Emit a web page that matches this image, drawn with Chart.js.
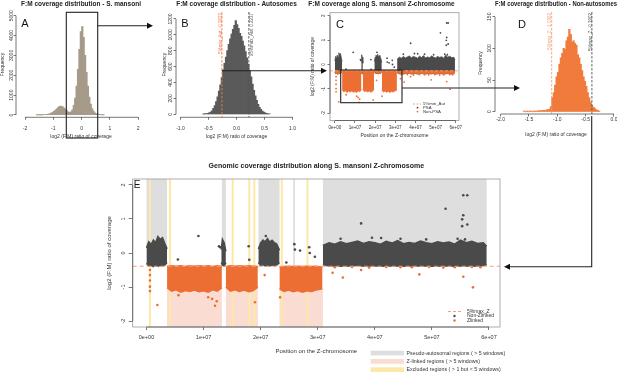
<!DOCTYPE html>
<html>
<head>
<meta charset="utf-8">
<title>F:M coverage</title>
<script src="https://cdn.jsdelivr.net/npm/chart.js@4.4.1/dist/chart.umd.min.js"></script>
<style>
  html, body { margin: 0; padding: 0; background: #fff; }
  body { position: relative; width: 617px; height: 373px; overflow: hidden; }
  canvas { position: absolute; }
  svg { position: absolute; left: 0; top: 0; }
</style>
</head>
<body>
<canvas id="graficoA" width="150" height="145" style="left:0px;top:0px"></canvas>
<canvas id="graficoB" width="160" height="145" style="left:150px;top:0px"></canvas>
<canvas id="graficoC" width="163" height="145" style="left:300px;top:0px"></canvas>
<canvas id="graficoD" width="147" height="145" style="left:470px;top:0px"></canvas>
<canvas id="graficoE" width="517" height="223" style="left:100px;top:150px"></canvas>
<svg width="617" height="373">
  <g stroke="#222" stroke-width="1.1" fill="none">
    <rect x="66.3" y="12.3" width="31.4" height="125.7"/>
    <rect x="340.7" y="70" width="61.3" height="32.7"/>
    <path d="M97.7 25.7 H148"/>
    <path d="M221.7 70.7 H322"/>
    <path d="M402 88 H515"/>
    <path d="M591.7 116 V266.7 H509"/>
  </g>
  <g fill="#111">
    <path d="M153 25.7 l-6 -3 v6 z"/>
    <path d="M327 70.7 l-6 -3 v6 z"/>
    <path d="M520 88 l-6 -3 v6 z"/>
    <path d="M504 266.7 l6 -3 v6 z"/>
  </g>
</svg>
<script>
// ---------- datos ----------
// A: todo el genoma (bins de 0.05)
const aBinStart = -1.6, aBinWidth = 0.05;
const aCounts = [5, 5, 8, 10, 12, 15, 20, 28, 40, 60, 90, 130, 180, 240, 310, 380, 430, 450, 420, 360, 290, 220, 160, 130,
                 150, 260, 480, 850, 1450, 2300, 3300, 4200, 4450, 3900, 3000, 2150, 1450, 900, 550, 320, 190, 110, 70, 45, 28, 18, 12, 8];
const aXTicks = [-2, -1, 0, 1, 2];
const aXLabels = ['-2', '-1', '0', '1', '2'];
const aYTicks = [0, 1000, 2000, 3000, 4000, 5000];

// B: autosomas (bins de 0.025)
const bBinStart = -0.6, bBinWidth = 0.025;
const bCounts = [3, 5, 8, 12, 18, 28, 42, 75, 110, 160, 220, 290, 370, 460, 560, 640, 720, 800, 880, 950, 1010, 1070, 1120, 1180,
                 1130, 1080, 1020, 980, 920, 860, 790, 710, 630, 550, 470, 380, 300, 230, 175, 125, 88, 60, 40, 26, 16, 10, 6, 4];
const bXTicks = [-1, -0.5, 0, 0.5, 1];
const bXLabels = ['-1.0', '-0.5', '0.0', '0.5', '1.0'];
const bYTicks = [0, 200, 400, 600, 800, 1000, 1200];
const autMin = -0.26, autMax = 0.22;
const autLabels = ['5%min_Aut: -0.2622', '95%max_Aut: 0.2237'];

// D: no autosomas (bins de 0.025)
const dBinStart = -1.6, dBinWidth = 0.025;
const dCounts = [1, 0, 1, 0, 1, 1, 0, 1, 1, 1, 1, 2, 1, 2, 2, 2, 3, 3, 4, 8,
                 22, 30, 42, 55, 62, 75, 85, 92, 100, 98, 112, 118, 130, 122, 110, 112, 108, 105, 90, 85,
                 75, 65, 55, 48, 40, 30, 22, 15, 10, 7, 5, 3, 2, 1];
const dXTicks = [-2, -1.5, -1, -0.5, 0];
const dXLabels = ['-2.0', '-1.5', '-1.0', '-0.5', '0.0'];
const dYTicks = [0, 50, 100, 150];
const zMin = -1.10, zMax = -0.39;
const zLabels = ['5%min_Z: -1.0962', '5%max_Z: -0.3902'];

// C y E: cromosoma Z (posicion en unidades de 1e7)
const zXTicks = [0, 1, 2, 3, 4, 5, 6];
const zXLabels = ['0e+00', '1e+07', '2e+07', '3e+07', '4e+07', '5e+07', '6e+07'];
const zYTicks = [-2, -1, 0, 1, 2];

// nubes densas de ventanas PSA (borde superior / inferior)
const psaCloudX = [
  [0.00, 0.04, 0.08, 0.12, 0.16, 0.20, 0.24, 0.28, 0.32, 0.36],
  [1.31, 1.33, 1.36, 1.39],
  [1.96, 2.00, 2.04, 2.08, 2.12, 2.16, 2.20, 2.24, 2.28, 2.33],
  [3.09, 3.20, 3.30, 3.40, 3.50, 3.60, 3.70, 3.80, 3.90, 4.00, 4.10, 4.20, 4.30, 4.40, 4.50,
   4.60, 4.70, 4.80, 4.90, 5.00, 5.10, 5.20, 5.30, 5.40, 5.50, 5.60, 5.70, 5.80, 5.90, 5.96]
];
const psaCloudTop = [
  [0.15, 0.33, 0.25, 0.38, 0.30, 0.48, 0.40, 0.45, 0.28, 0.12],
  [0.10, 0.40, 0.30, 0.05],
  [0.12, 0.30, 0.38, 0.33, 0.42, 0.32, 0.37, 0.30, 0.26, 0.08],
  [0.22, 0.30, 0.26, 0.33, 0.27, 0.31, 0.35, 0.28, 0.33, 0.30, 0.26, 0.34, 0.29, 0.36, 0.27,
   0.31, 0.28, 0.35, 0.30, 0.27, 0.33, 0.29, 0.32, 0.26, 0.38, 0.30, 0.34, 0.28, 0.30, 0.20]
];
const psaCloudBottom = [
  [-0.30, -0.38, -0.36, -0.40, -0.37, -0.39, -0.36, -0.38, -0.35, -0.28],
  [-0.28, -0.36, -0.38, -0.28],
  [-0.28, -0.36, -0.34, -0.38, -0.36, -0.38, -0.35, -0.37, -0.35, -0.28],
  [-0.34, -0.38, -0.37, -0.39, -0.37, -0.38, -0.36, -0.39, -0.38, -0.37, -0.39, -0.38, -0.37, -0.38, -0.39,
   -0.37, -0.38, -0.38, -0.37, -0.39, -0.38, -0.37, -0.38, -0.39, -0.38, -0.37, -0.38, -0.39, -0.37, -0.34]
];
// nubes densas de ventanas ligadas a Z
const zCloudX = [
  [0.36, 0.44, 0.52, 0.60, 0.68, 0.76, 0.84, 0.92, 1.00, 1.08, 1.16, 1.24, 1.32],
  [1.39, 1.47, 1.55, 1.63, 1.71, 1.79, 1.87, 1.95],
  [2.33, 2.41, 2.49, 2.57, 2.65, 2.73, 2.81, 2.89, 2.97, 3.08]
];
const zCloudTop = [
  [-0.40, -0.38, -0.39, -0.38, -0.40, -0.38, -0.39, -0.38, -0.39, -0.38, -0.40, -0.38, -0.40],
  [-0.40, -0.38, -0.39, -0.38, -0.39, -0.38, -0.39, -0.40],
  [-0.42, -0.40, -0.39, -0.40, -0.39, -0.40, -0.39, -0.40, -0.39, -0.42]
];
const zCloudBottom = [
  [-1.02, -1.12, -1.08, -1.15, -1.10, -1.13, -1.09, -1.14, -1.11, -1.15, -1.08, -1.12, -1.02],
  [-1.00, -1.12, -1.08, -1.13, -1.09, -1.14, -1.10, -1.00],
  [-1.05, -1.13, -1.09, -1.14, -1.10, -1.15, -1.11, -1.13, -1.09, -1.05]
];
// puntos sueltos
const darkOutX = [0.55, 0.91, 1.27, 1.29, 1.79, 1.80, 2.09, 2.45, 2.59, 2.60, 2.69, 2.85, 2.86, 2.95, 3.40,
                  3.76, 3.95, 4.11, 4.45, 4.90, 5.24, 5.45, 5.53, 5.53, 5.55, 5.55, 5.58, 5.62, 5.62];
const darkOutY = [-0.19, 0.50, 0.20, 0.17, 0.20, -0.20, 0.50, -0.28, 0.26, 0.10, 0.07, 0.17, 0.00, -0.11, 0.42,
                  0.87, 0.45, 0.44, 0.42, 0.40, 1.30, 0.42, 0.79, 0.99, 1.11, 1.70, 0.40, 0.84, 1.70];
const orangeOutX = [0.06, 0.06, 0.06, 0.06, 0.06, 0.19, 0.56, 1.08, 1.15, 1.20, 1.23, 1.90, 2.07, 2.34, 3.26, 3.44,
                    3.76, 4.78, 5.55, 5.72, 3.30, 3.60, 3.90, 4.20, 4.45, 4.65, 4.95, 5.20, 5.40, 5.70, 5.85];
const orangeOutY = [-0.50, -0.65, -0.81, -0.99, -1.12, -1.53, -1.24, -1.30, -1.35, -1.55, -1.42, -1.45, -0.65, -1.30, -0.58, -0.72,
                    -0.50, -0.63, -0.70, -1.01, -0.42, -0.41, -0.43, -0.41, -0.42, -0.42, -0.41, -0.43, -0.42, -0.41, -0.42];

// regiones de E
const psaStart = [0.00, 1.32, 1.96, 2.57, 3.09];
const psaEnd = [0.36, 1.39, 2.33, 2.60, 5.96];
const zlinkStart = [0.36, 1.39, 2.33];
const zlinkEnd = [1.32, 1.95, 3.09];
const excludedPos = [0.06, 0.41, 1.51, 1.80, 1.89, 2.37, 2.82];
const excludedWidth = 0.035;

const legendC = ['5%min_Aut', 'PSA', 'Non-PSA'];
const legendE = ['5%max_Z', 'Non-Zlinked', 'Zlinked'];
const regionLegend = ['Pseudo-autosomal regions ( > 5 windows)', 'Z-linked regions ( > 5 windows)', 'Excluded regions ( > 1 but < 5 windows)'];

// ---------- estilo ----------
const FONT = '"Liberation Sans", Arial, Helvetica, sans-serif';
const COL_DARK = '#4a4a4a';
const COL_ORANGE = '#ec6e32';
const COL_TAN = '#a69a88';
const COL_GREY_HIST = '#5a5a5a';
const COL_ORANGE_HIST = '#f07b3c';
const COL_THR = '#f4a07c';
const COL_PSA_ZONE = '#dedede';
const COL_Z_ZONE = '#fadcd2';
const COL_EXCL = '#fde8a8';

Chart.defaults.font.family = FONT;
Chart.defaults.color = '#333';
Chart.defaults.animation = false;
Chart.defaults.plugins.legend.display = false;
Chart.defaults.plugins.tooltip.enabled = false;

function fixSize(size) {
  return function(s) {
    if (s.isHorizontal()) s.height = size; else s.width = size;
    s.paddingTop = 0; s.paddingBottom = 0; s.paddingLeft = 0; s.paddingRight = 0;
  };
}

function axisX(o) {
  return {
    type: 'linear', min: o.min, max: o.max, offset: false,
    afterBuildTicks: s => { s.ticks = o.ticks.map(v => ({ value: v })); },
    afterFit: fixSize(o.height),
    ticks: { autoSkip: false, maxRotation: 0, minRotation: 0, padding: o.tickPad, font: { size: o.font }, color: '#333',
             callback: (v, i) => o.labels[i] },
    grid: { display: true, drawOnChartArea: false, drawTicks: true, tickLength: o.tickLen || 2.5, color: '#555', lineWidth: 0.8, offset: false },
    border: { display: false },
    title: { display: true, text: o.title, font: { size: o.titleFont || o.font }, color: '#333', padding: { top: 0, bottom: o.titlePad } }
  };
}

function axisY(o) {
  return {
    type: 'linear', min: o.min, max: o.max,
    afterBuildTicks: s => { s.ticks = o.ticks.map(v => ({ value: v })); },
    afterFit: fixSize(o.width),
    ticks: { display: false, autoSkip: false, callback: v => String(v) },
    grid: { display: true, drawOnChartArea: false, drawTicks: true, tickLength: o.tickLen || 2.5, color: '#555', lineWidth: 0.8 },
    border: { display: false },
    title: { display: true, text: o.title, font: { size: o.titleFont || 5 }, color: '#333', padding: { top: o.titlePad, bottom: 0 } }
  };
}

function titleOpts(text, top, bottom, size, fullSize) {
  return { display: true, text: text, color: '#222', font: { size: size, weight: 'bold' }, padding: { top: top, bottom: bottom }, fullSize: !!fullSize };
}

// ejes estilo R: linea entre primer y ultimo tick, etiquetas y giradas, caja, letra del panel
function rStyle(o) {
  return {
    id: 'rStyle',
    afterDraw(chart) {
      const { ctx, chartArea: ca, scales: { x, y } } = chart;
      ctx.save();
      ctx.lineWidth = 0.8;
      if (o.box) {
        ctx.strokeStyle = '#9a9a9a';
        ctx.strokeRect(ca.left, ca.top, ca.right - ca.left, ca.bottom - ca.top);
      }
      ctx.strokeStyle = '#555';
      ctx.beginPath();
      ctx.moveTo(x.getPixelForTick(0), ca.bottom);
      ctx.lineTo(x.getPixelForTick(x.ticks.length - 1), ca.bottom);
      ctx.moveTo(ca.left, y.getPixelForTick(0));
      ctx.lineTo(ca.left, y.getPixelForTick(y.ticks.length - 1));
      ctx.stroke();
      ctx.fillStyle = '#333';
      ctx.font = (o.yFont || 5) + 'px ' + FONT;
      ctx.textAlign = 'center';
      ctx.textBaseline = 'middle';
      y.ticks.forEach((t, i) => {
        ctx.save();
        ctx.translate(ca.left - o.yGap, y.getPixelForTick(i));
        ctx.rotate(-Math.PI / 2);
        ctx.fillText(t.label, 0, 0);
        ctx.restore();
      });
      if (o.letter) {
        ctx.fillStyle = '#111';
        ctx.font = o.letterSize + 'px ' + FONT;
        ctx.fillText(o.letter, o.letterX, o.letterY);
      }
      ctx.restore();
    }
  };
}

// lineas verticales discontinuas con su etiqueta girada
function vLines(lines) {
  return {
    id: 'vLines',
    afterDatasetsDraw(chart) {
      const { ctx, chartArea: ca, scales: { x } } = chart;
      lines.forEach(l => {
        const px = x.getPixelForValue(l.value);
        ctx.save();
        ctx.strokeStyle = l.color;
        ctx.lineWidth = 0.9;
        ctx.setLineDash([2.5, 1.5]);
        ctx.beginPath();
        ctx.moveTo(px, ca.top);
        ctx.lineTo(px, ca.bottom);
        ctx.stroke();
        ctx.setLineDash([]);
        ctx.fillStyle = l.color;
        ctx.font = '4.5px ' + FONT;
        ctx.textAlign = 'right';
        ctx.textBaseline = 'middle';
        ctx.translate(px + l.dx, ca.top + 1);
        ctx.rotate(-Math.PI / 2);
        ctx.fillText(l.label, 0, 0);
        ctx.restore();
      });
    }
  };
}

function histData(start, width, counts) {
  return counts.map((c, i) => ({ x: start + (i + 0.5) * width, y: c }));
}

function histDataset(start, width, counts, color) {
  return { data: histData(start, width, counts), backgroundColor: color, borderWidth: 0,
           barPercentage: 1, categoryPercentage: 1, inflateAmount: 0.4, grouped: false };
}

function bandSets(xs, tops, bots, color, bw, order) {
  return [
    { type: 'line', data: xs.map((x, i) => ({ x: x, y: bots[i] })), borderColor: color, borderWidth: bw,
      pointRadius: 0, fill: false, order: order },
    { type: 'line', data: xs.map((x, i) => ({ x: x, y: tops[i] })), borderColor: color, borderWidth: bw,
      pointRadius: 0, fill: '-1', backgroundColor: color, order: order }
  ];
}

function points(xs, ys) {
  return xs.map((x, i) => ({ x: x, y: ys[i] }));
}

// ---------- A ----------
new Chart(document.getElementById('graficoA'), {
  type: 'bar',
  data: { datasets: [histDataset(aBinStart, aBinWidth, aCounts, COL_TAN)] },
  options: {
    responsive: false,
    layout: { padding: { left: 0, right: 4, top: 0, bottom: 0 } },
    scales: {
      x: axisX({ min: -2.32, max: 2.28, ticks: aXTicks, labels: aXLabels, height: 27.7, tickPad: 5.5, font: 5,
                 title: 'log2 (F:M) ratio of coverage', titlePad: 5.3 }),
      y: axisY({ min: -116, max: 5200, ticks: aYTicks, width: 16, title: 'Frequency', titlePad: 0 })
    },
    plugins: { title: titleOpts('F:M coverage distribution - S. mansoni', 0.1, 3.8, 6.5) }
  },
  plugins: [rStyle({ yGap: 4.5, letter: 'A', letterSize: 11, letterX: 25, letterY: 24 })]
});

// ---------- B ----------
new Chart(document.getElementById('graficoB'), {
  type: 'bar',
  data: { datasets: [histDataset(bBinStart, bBinWidth, bCounts, COL_GREY_HIST)] },
  options: {
    responsive: false,
    layout: { padding: { left: 0, right: 13, top: 0, bottom: 0 } },
    scales: {
      x: axisX({ min: -1.08, max: 1.08, ticks: bXTicks, labels: bXLabels, height: 27.7, tickPad: 5.5, font: 5,
                 title: 'log2 (F:M) ratio of coverage', titlePad: 5.3 }),
      y: axisY({ min: -38, max: 1288, ticks: bYTicks, width: 26, title: 'Frequency', titlePad: 12 })
    },
    plugins: { title: titleOpts('F:M coverage distribution - Autosomes', 0.1, 4.1, 6.5) }
  },
  plugins: [
    rStyle({ yGap: 5, letter: 'B', letterSize: 11, letterX: 35, letterY: 24 }),
    vLines([{ value: autMin, color: '#f07c4a', label: autLabels[0], dx: -1.5 },
            { value: autMax, color: '#555', label: autLabels[1], dx: 2.5 }])
  ]
});

// ---------- C ----------
const cDatasets = [
  { type: 'line', data: [{ x: -0.24, y: autMin }, { x: 6.16, y: autMin }], borderColor: COL_THR, borderDash: [3, 2],
    borderWidth: 0.9, pointRadius: 0, order: 0 },
  { type: 'scatter', data: points(darkOutX.concat(orangeOutX), darkOutY.concat(orangeOutY)), pointRadius: 0.9, pointBorderWidth: 0,
    pointBackgroundColor: c => (c.raw && c.raw.y < autMin ? COL_ORANGE : COL_DARK), order: 1 }
];
psaCloudX.forEach((xs, k) => {
  cDatasets.push(...bandSets(xs, xs.map(() => autMin), psaCloudBottom[k], COL_ORANGE, 0.6, 2));
});
zCloudX.forEach((xs, k) => {
  cDatasets.push(...bandSets(xs, xs.map(() => autMin), zCloudBottom[k], COL_ORANGE, 0.8, 3));
});
psaCloudX.forEach((xs, k) => {
  cDatasets.push(...bandSets(xs, psaCloudTop[k], psaCloudBottom[k], COL_DARK, 0.8, 3));
});

new Chart(document.getElementById('graficoC'), {
  type: 'scatter',
  data: { datasets: cDatasets },
  options: {
    responsive: false,
    layout: { padding: { left: 0, right: 0, top: 0, bottom: 0 } },
    scales: {
      x: axisX({ min: -0.24, max: 6.16, ticks: zXTicks, labels: zXLabels, height: 24.5, tickPad: 2, font: 4.5,
                 title: 'Position on the Z-chromosome', titleFont: 5, titlePad: 6.3 }),
      y: axisY({ min: -2.295, max: 2.123, ticks: zYTicks, width: 30, title: 'log2 (F:M) ratio of coverage', titleFont: 4.8, titlePad: 9.8 })
    },
    plugins: { title: titleOpts('F:M coverage along S. mansoni Z-chromosome', 0.1, 4.8, 6.5, true) }
  },
  plugins: [
    rStyle({ box: true, yGap: 6, yFont: 4.5, letter: 'C', letterSize: 11, letterX: 40, letterY: 25 }),
    {
      id: 'legendC',
      afterDraw(chart) {
        const ctx = chart.ctx;
        ctx.save();
        ctx.strokeStyle = COL_THR; ctx.lineWidth = 0.9; ctx.setLineDash([2, 1.5]);
        ctx.beginPath(); ctx.moveTo(113, 104); ctx.lineTo(121, 104); ctx.stroke();
        ctx.fillStyle = COL_DARK; ctx.beginPath(); ctx.arc(117.5, 107.7, 0.9, 0, Math.PI * 2); ctx.fill();
        ctx.fillStyle = COL_ORANGE; ctx.beginPath(); ctx.arc(117.5, 111.6, 0.9, 0, Math.PI * 2); ctx.fill();
        ctx.fillStyle = '#333'; ctx.font = '4.3px ' + FONT; ctx.textAlign = 'left'; ctx.textBaseline = 'middle';
        legendC.forEach((t, i) => ctx.fillText(t, 123, 104 + i * 3.8));
        ctx.restore();
      }
    }
  ]
});

// ---------- D ----------
new Chart(document.getElementById('graficoD'), {
  type: 'bar',
  data: { datasets: [histDataset(dBinStart, dBinWidth, dCounts, COL_ORANGE_HIST)] },
  options: {
    responsive: false,
    layout: { padding: { left: 0, right: 0, top: 0, bottom: 0 } },
    scales: {
      x: axisX({ min: -2.1, max: 0.053, ticks: dXTicks, labels: dXLabels, height: 31, tickPad: 0.5, font: 5,
                 title: 'log2 (F:M) ratio of coverage', titlePad: 7.7 }),
      y: axisY({ min: -3.6, max: 157.5, ticks: dYTicks, width: 25, title: 'Frequency', titlePad: 7.7 })
    },
    plugins: { title: titleOpts('F:M coverage distribution - Non-autosomes', 0.1, 4.1, 6.5) }
  },
  plugins: [
    rStyle({ yGap: 5, letter: 'D', letterSize: 11, letterX: 52, letterY: 25 }),
    vLines([{ value: zMin, color: '#f4a07c', label: zLabels[0], dx: -1.5 },
            { value: zMax, color: '#555', label: zLabels[1], dx: -1.5 }])
  ]
});

// ---------- E ----------
const eDatasets = [
  { type: 'line', data: [{ x: -0.242, y: zMax }, { x: 6.193, y: zMax }], borderColor: COL_THR, borderDash: [4, 3],
    borderWidth: 1.2, pointRadius: 0, order: 0 },
  { type: 'scatter', data: points(darkOutX, darkOutY), pointRadius: 1.3, pointBorderWidth: 0,
    pointBackgroundColor: COL_DARK, order: 1 },
  { type: 'scatter', data: points(orangeOutX, orangeOutY), pointRadius: 1.3, pointBorderWidth: 0,
    pointBackgroundColor: COL_ORANGE, order: 1 }
];
psaCloudX.forEach((xs, k) => {
  eDatasets.push(...bandSets(xs, psaCloudTop[k], psaCloudBottom[k], COL_DARK, 1.6, 2));
});
zCloudX.forEach((xs, k) => {
  eDatasets.push(...bandSets(xs, zCloudTop[k], zCloudBottom[k], COL_ORANGE, 1.6, 2));
});

const regionesE = {
  id: 'regionesE',
  beforeDatasetsDraw(chart) {
    const { ctx, chartArea: ca, scales: { x, y } } = chart;
    const yThr = y.getPixelForValue(zMax);
    ctx.save();
    ctx.fillStyle = COL_PSA_ZONE;
    psaStart.forEach((s, i) => {
      const l = x.getPixelForValue(s);
      ctx.fillRect(l, ca.top, x.getPixelForValue(psaEnd[i]) - l, yThr - ca.top);
    });
    ctx.fillStyle = COL_Z_ZONE;
    zlinkStart.forEach((s, i) => {
      const l = x.getPixelForValue(s);
      ctx.fillRect(l, yThr, x.getPixelForValue(zlinkEnd[i]) - l, ca.bottom - yThr);
    });
    ctx.fillStyle = COL_EXCL;
    excludedPos.forEach(p => {
      const l = x.getPixelForValue(p - excludedWidth / 2);
      ctx.fillRect(l, ca.top, x.getPixelForValue(p + excludedWidth / 2) - l, ca.bottom - ca.top);
    });
    ctx.restore();
  },
  afterDraw(chart) {
    const ctx = chart.ctx;
    ctx.save();
    // leyenda interior
    ctx.strokeStyle = COL_THR; ctx.lineWidth = 1.1; ctx.setLineDash([3, 2]);
    ctx.beginPath(); ctx.moveTo(348, 161.5); ctx.lineTo(361, 161.5); ctx.stroke();
    ctx.setLineDash([]);
    ctx.fillStyle = COL_DARK; ctx.beginPath(); ctx.arc(354.5, 166, 1.2, 0, Math.PI * 2); ctx.fill();
    ctx.fillStyle = COL_ORANGE; ctx.beginPath(); ctx.arc(354.5, 170.5, 1.2, 0, Math.PI * 2); ctx.fill();
    ctx.fillStyle = '#333'; ctx.font = '5px ' + FONT; ctx.textAlign = 'left'; ctx.textBaseline = 'middle';
    legendE.forEach((t, i) => ctx.fillText(t, 367, 161.5 + i * 4.5));
    // leyenda de regiones
    const cols = [COL_PSA_ZONE, COL_Z_ZONE, COL_EXCL];
    ctx.font = '5.3px ' + FONT;
    regionLegend.forEach((t, i) => {
      ctx.fillStyle = cols[i];
      ctx.fillRect(270.7, 200.7 + i * 8.3, 33.3, 4.7);
      ctx.fillStyle = '#333';
      ctx.fillText(t, 306.5, 203.1 + i * 8.3);
    });
    ctx.restore();
  }
};

new Chart(document.getElementById('graficoE'), {
  type: 'scatter',
  data: { datasets: eDatasets },
  options: {
    responsive: false,
    layout: { padding: { left: 0, right: 117, top: 0, bottom: 0 } },
    scales: {
      x: axisX({ min: -0.242, max: 6.193, ticks: zXTicks, labels: zXLabels, height: 46, tickPad: 4.2, font: 5.5, tickLen: 3,
                 title: 'Position on the Z-chromosome', titleFont: 6, titlePad: 18.4 }),
      y: axisY({ min: -2.176, max: 2.176, ticks: zYTicks, width: 32.7, tickLen: 4, title: 'log2 (F:M) ratio of coverage', titleFont: 6, titlePad: 5.4 })
    },
    plugins: { title: titleOpts('Genomic coverage distribution along S. mansoni Z-chromosome', 11.8, 8.8, 7) }
  },
  plugins: [regionesE, rStyle({ box: true, yGap: 9.4, yFont: 5.5, letter: 'E', letterSize: 10, letterX: 37, letterY: 35 })]
});
</script>
</body>
</html>
